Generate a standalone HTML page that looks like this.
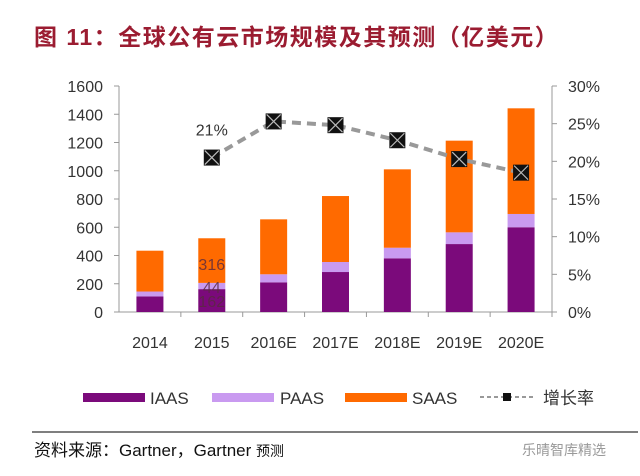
<!DOCTYPE html>
<html><head><meta charset="utf-8"><style>
body{margin:0;background:#fff;width:640px;height:476px;overflow:hidden;font-family:"Liberation Sans","Noto Sans CJK SC",sans-serif}
</style></head><body>
<svg width="640" height="476" style="position:absolute;left:0;top:0">
<text x="34" y="45" fill="#9b1c31" font-size="23" font-weight="bold" letter-spacing="1.5" font-family="Liberation Sans,Noto Sans CJK SC,sans-serif">图 11：全球公有云市场规模及其预测（亿美元）</text>
<g id="plot"></g>
<g font-size="17" fill="#333">
<rect x="83" y="393" width="62" height="9" fill="#7b0a7b"/><text x="150" y="404">IAAS</text>
<rect x="212" y="393" width="62" height="9" fill="#c99af0"/><text x="280" y="404">PAAS</text>
<rect x="345" y="393" width="62" height="9" fill="#ff6a00"/><text x="412" y="404">SAAS</text>
<line x1="480" y1="397" x2="535" y2="397" stroke="#999" stroke-width="2" stroke-dasharray="4,3"/>
<rect x="503" y="393" width="8" height="8" fill="#111"/>
<text x="543" y="404" font-family="Noto Sans CJK SC,sans-serif">增长率</text>
</g>
<line x1="32" y1="432" x2="638" y2="432" stroke="#555" stroke-width="1.5"/>
<text x="34" y="456" font-size="17" fill="#111">资料来源：Gartner，Gartner <tspan font-size="14">预测</tspan></text>
<text x="522" y="455" font-size="14" fill="#999" font-family="Noto Sans CJK SC,sans-serif">乐晴智库精选</text>
</svg>
<script>
const categories=["2014","2015","2016E","2017E","2018E","2019E","2020E"];
const iaas=[110,162,210,283,380,481,600];
const paas=[35,44,57,71,75,83,94];
const saas=[289,316,389,467,555,649,748];
const growth=[null,20.5,25.3,24.8,22.8,20.3,18.5];
const leftTicks=[0,200,400,600,800,1000,1200,1400,1600];
const rightTicks=[0,5,10,15,20,25,30];
const NS="http://www.w3.org/2000/svg";
const g=document.getElementById('plot');
const X0=119,X1=552,Y0=312,Y1=86;
const yL=v=>Y0-(v/1600)*(Y0-Y1);
const yR=v=>Y0-(v/30)*(Y0-Y1);
const bw=(X1-X0)/categories.length;
const xc=i=>X0+bw*(i+0.5);
function mk(t,a){const e=document.createElementNS(NS,t);for(const k in a)e.setAttribute(k,a[k]);g.appendChild(e);return e;}
let e;
e=mk('line',{x1:X0,y1:Y1,x2:X0,y2:Y0,stroke:'#999'});


e=mk('line',{x1:X1,y1:Y1,x2:X1,y2:Y0,stroke:'#999'});


e=mk('line',{x1:X0,y1:Y0,x2:X1,y2:Y0,stroke:'#999'});


leftTicks.forEach(v=>{mk('line',{x1:X0-5,x2:X0,y1:yL(v),y2:yL(v),stroke:'#999'});
e=mk('text',{x:X0-16,y:yL(v)+6,'text-anchor':'end','font-size':16,fill:'#333'});e.textContent=v;

});
rightTicks.forEach(v=>{mk('line',{x1:X1,x2:X1+5,y1:yR(v),y2:yR(v),stroke:'#999'});
e=mk('text',{x:X1+16,y:yR(v)+6,'font-size':16,fill:'#333'});e.textContent=v+'%';

});
categories.forEach((c,i)=>{
 mk('line',{x1:X0+bw*(i+1),x2:X0+bw*(i+1),y1:Y0,y2:Y0+5,stroke:'#999'});
 e=mk('text',{x:xc(i),y:348,'text-anchor':'middle','font-size':16,fill:'#333'});e.textContent=c;
 
 
 const w=27,x=xc(i)-w/2;
 let b=0;
 [[iaas[i],'#7b0a7b','bar-iaas'],[paas[i],'#c99af0','bar-paas'],[saas[i],'#ff6a00','bar-saas']].forEach(([v,col,n])=>{
  e=mk('rect',{x:x,y:yL(b+v),width:w,height:yL(b)-yL(b+v),fill:col});
  
  
  b+=v;});
});
// 2015 labels (placed as in reference)
[[iaas[1]*0.48,iaas[1]],[iaas[1]+paas[1]*0.34,paas[1]],[iaas[1]+paas[1]+saas[1]*0.42,saas[1]]].forEach(([p,v])=>{
 e=mk('text',{x:xc(1),y:yL(p)+6,'text-anchor':'middle','font-size':16,fill:'#5a2a40','opacity':0.8});e.textContent=v;
 
 });
const pts=growth.map((v,i)=>v==null?null:[xc(i),yR(v)]).filter(p=>p);
e=mk('polyline',{points:pts.map(p=>p.join(',')).join(' '),fill:'none',stroke:'#999','stroke-width':4,'stroke-dasharray':'9,6'});


pts.forEach(([x,y])=>{
 e=mk('rect',{x:x-8,y:y-8,width:16,height:16,fill:'#111'});
 
 
 mk('path',{d:`M${x-7} ${y-7}L${x+7} ${y+7}M${x+7} ${y-7}L${x-7} ${y+7}`,stroke:'#bbb','stroke-width':1.2});
});
e=mk('text',{x:xc(1),y:yR(growth[1])-22,'text-anchor':'middle','font-size':16,fill:'#333'});e.textContent=Math.round(growth[1])+'%';


</script>
</body></html>
